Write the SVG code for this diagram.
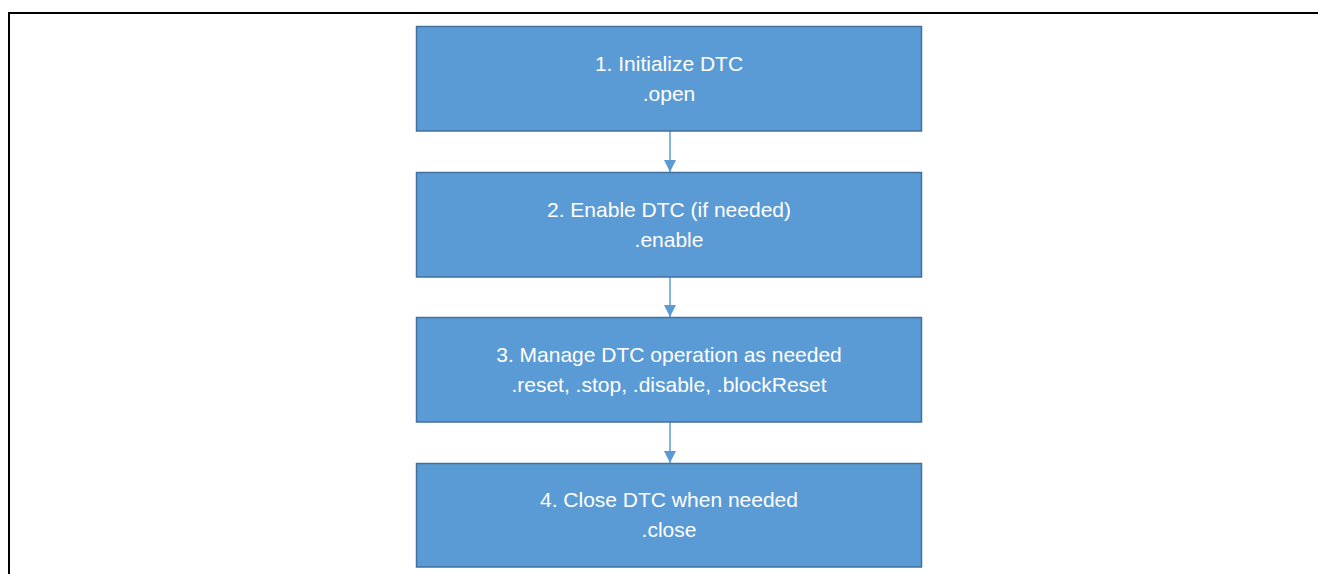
<svg xmlns="http://www.w3.org/2000/svg" width="1318" height="574" viewBox="0 0 1318 574">
  <style>
    .box { fill: #5B9BD5; stroke: #41719C; stroke-width: 1.5; }
    .lbl { fill: #FFFFFF; font-family: "Liberation Sans", Arial, sans-serif; font-size: 21px; text-anchor: middle; }
    .conn { stroke: #5B9BD5; stroke-width: 1.5; fill: none; }
    .frame { stroke: #000000; stroke-width: 2; fill: none; }
  </style>
  <defs>
    <marker id="arrow" viewBox="0 0 12 12" refX="12" refY="6" markerWidth="12" markerHeight="12" markerUnits="userSpaceOnUse" orient="auto">
      <path d="M0,0 L12,6 L0,12 Z" fill="#5B9BD5"/>
    </marker>
  </defs>
  <rect width="1318" height="574" fill="#FFFFFF"/>
  <path class="frame" d="M9,574 V13 H1318"/>

  <g id="connectors">
    <line class="conn" x1="670" y1="131" x2="670" y2="172" marker-end="url(#arrow)"/>
    <line class="conn" x1="670" y1="277" x2="670" y2="317" marker-end="url(#arrow)"/>
    <line class="conn" x1="670" y1="422" x2="670" y2="463" marker-end="url(#arrow)"/>
  </g>

  <g id="node1">
    <rect class="box" x="416.5" y="26.5" width="505" height="104.5"/>
    <text class="lbl" x="669" y="71">1. Initialize DTC</text>
    <text class="lbl" x="669" y="101">.open</text>
  </g>
  <g id="node2">
    <rect class="box" x="416.5" y="172.5" width="505" height="104.5"/>
    <text class="lbl" x="669" y="217">2. Enable DTC (if needed)</text>
    <text class="lbl" x="669" y="247">.enable</text>
  </g>
  <g id="node3">
    <rect class="box" x="416.5" y="317.5" width="505" height="104.5"/>
    <text class="lbl" x="669" y="362">3. Manage DTC operation as needed</text>
    <text class="lbl" x="669" y="392">.reset, .stop, .disable, .blockReset</text>
  </g>
  <g id="node4">
    <rect class="box" x="416.5" y="463.5" width="505" height="103.5"/>
    <text class="lbl" x="669" y="507">4. Close DTC when needed</text>
    <text class="lbl" x="669" y="537">.close</text>
  </g>
</svg>
